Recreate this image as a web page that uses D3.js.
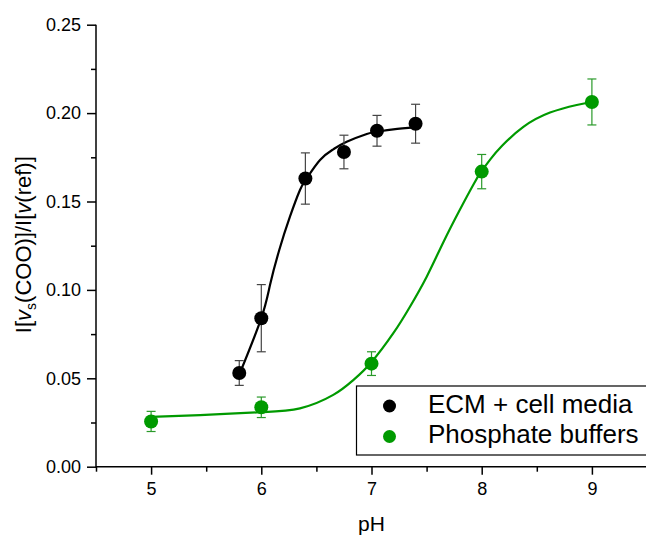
<!DOCTYPE html>
<html>
<head>
<meta charset="utf-8">
<script src="https://cdn.jsdelivr.net/npm/d3@7"></script>
<style>
  html, body { margin: 0; padding: 0; background: #fff; }
  svg { display: block; font-family: "Liberation Sans", Arial, sans-serif; }
</style>
</head>
<body>
<svg id="chart" width="646" height="536"></svg>
<script>
// Tick values
const phTicks = [5, 6, 7, 8, 9];
const phMinorTicks = [4.5, 5.5, 6.5, 7.5, 8.5, 9.5];
const ratioTicks = [0, 0.05, 0.10, 0.15, 0.20, 0.25];
const ratioMinorTicks = [0.025, 0.075, 0.125, 0.175, 0.225];

// ECM + cell media measurements
const ecmPH = [5.8, 6.0, 6.4, 6.75, 7.05, 7.4];
const ecmVal = [0.053, 0.084, 0.163, 0.178, 0.190, 0.194];
const ecmErr = [0.007, 0.019, 0.0145, 0.0095, 0.0087, 0.011];

// Phosphate buffer measurements
const phosPH = [5, 6, 7, 8, 9];
const phosVal = [0.0256, 0.0336, 0.0583, 0.1669, 0.2063];
const phosErr = [0.0057, 0.0058, 0.0067, 0.0097, 0.013];

// Sigmoidal fit curves (sampled)
const ecmFitPH = [5.8, 6.0, 6.08, 6.163, 6.26, 6.351, 6.412, 6.533, 6.653, 6.775, 6.957, 7.047, 7.198, 7.4];
const ecmFitVal = [0.052, 0.084, 0.103, 0.1226, 0.1414, 0.1565, 0.1631, 0.1735, 0.1795, 0.1838, 0.1882, 0.1895, 0.1908, 0.1921];
const phosFitPH = [5.0, 5.444, 5.988, 6.351, 6.653, 6.835, 6.995, 7.198, 7.349, 7.501, 7.652, 7.803, 7.924, 7.994, 8.08, 8.185, 8.378, 8.62, 8.862, 9.0];
const phosFitVal = [0.0282, 0.0292, 0.0308, 0.033, 0.0406, 0.049, 0.0588, 0.0755, 0.0905, 0.1075, 0.127, 0.1455, 0.1595, 0.1667, 0.174, 0.1815, 0.1922, 0.2003, 0.2046, 0.2063];

const seriesNames = ["ECM + cell media", "Phosphate buffers"];
const colors = { ecm: "#000000", phos: "#009a00" };

const svg = d3.select("#chart");
const x = d3.scaleLinear().domain([4.5, 9.5]).range([96, 647]);
const y = d3.scaleLinear().domain([0, 0.25]).range([466.7, 24.7]);

const font = "'Liberation Sans', Arial, sans-serif";

// Bottom axis: major and minor ticks
svg.append("g").attr("transform", `translate(0,${y(0)})`)
  .call(d3.axisBottom(x).tickValues(phTicks).tickFormat(d3.format("d")).tickSize(8).tickPadding(8));
svg.append("g").attr("transform", `translate(0,${y(0)})`)
  .call(d3.axisBottom(x).tickValues(phMinorTicks).tickFormat("").tickSize(5));

// Left axis: major and minor ticks
svg.append("g").attr("transform", `translate(${x(4.5)},0)`)
  .call(d3.axisLeft(y).tickValues(ratioTicks).tickFormat(d3.format(".2f")).tickSize(9).tickPadding(6));
svg.append("g").attr("transform", `translate(${x(4.5)},0)`)
  .call(d3.axisLeft(y).tickValues(ratioMinorTicks).tickFormat("").tickSize(5));

svg.selectAll(".tick line").attr("stroke", "#000").attr("stroke-width", 1.5);
svg.selectAll(".tick text").attr("fill", "#000").attr("font-size", 18).attr("font-family", font);

// plain axis lines without end caps
svg.selectAll(".domain").remove();
svg.append("line").attr("x1", x(4.5)).attr("x2", x(9.5)).attr("y1", y(0)).attr("y2", y(0))
  .attr("stroke", "#000").attr("stroke-width", 1.5);
svg.append("line").attr("x1", x(4.5)).attr("x2", x(4.5)).attr("y1", y(0) + 0.75).attr("y2", y(0.25))
  .attr("stroke", "#000").attr("stroke-width", 1.5);

// Axis titles
svg.append("text").attr("x", (x(4.5) + x(9.5)) / 2).attr("y", 531)
  .attr("text-anchor", "middle").attr("font-size", 21).attr("font-family", font).text("pH");

const yl = svg.append("text")
  .attr("transform", `translate(31,${(y(0) + y(0.25)) / 2 - 1}) rotate(-90)`)
  .attr("text-anchor", "middle").attr("font-size", 22).attr("font-family", font);
yl.append("tspan").text("I[");
yl.append("tspan").attr("font-style", "italic").text("v");
yl.append("tspan").attr("font-size", 14).attr("dy", 5).text("s");
yl.append("tspan").attr("dy", -5).text("(COO)]/I[");
yl.append("tspan").attr("font-style", "italic").text("v");
yl.append("tspan").text("(ref)]");

// Fit curves
const line = d3.line().x(d => x(d[0])).y(d => y(d[1])).curve(d3.curveNatural);
svg.append("path").datum(d3.zip(phosFitPH, phosFitVal)).attr("d", line)
  .attr("fill", "none").attr("stroke", colors.phos).attr("stroke-width", 2.2);
svg.append("path").datum(d3.zip(ecmFitPH, ecmFitVal)).attr("d", line)
  .attr("fill", "none").attr("stroke", colors.ecm).attr("stroke-width", 2.2);

// Error bars + markers
function drawSeries(ph, val, err, color, barColor) {
  const data = d3.zip(ph, val, err);
  const g = svg.append("g");
  const eb = g.selectAll("g.eb").data(data).join("g").attr("stroke", barColor).attr("stroke-width", 1.2);
  eb.append("line").attr("x1", d => x(d[0])).attr("x2", d => x(d[0]))
    .attr("y1", d => y(d[1] - d[2])).attr("y2", d => y(d[1] + d[2]));
  eb.append("line").attr("x1", d => x(d[0]) - 4.5).attr("x2", d => x(d[0]) + 4.5)
    .attr("y1", d => y(d[1] + d[2])).attr("y2", d => y(d[1] + d[2]));
  eb.append("line").attr("x1", d => x(d[0]) - 4.5).attr("x2", d => x(d[0]) + 4.5)
    .attr("y1", d => y(d[1] - d[2])).attr("y2", d => y(d[1] - d[2]));
  g.selectAll("circle").data(data).join("circle")
    .attr("cx", d => x(d[0])).attr("cy", d => y(d[1])).attr("r", 7).attr("fill", color);
}
drawSeries(phosPH, phosVal, phosErr, colors.phos, "#2a9a2a");
drawSeries(ecmPH, ecmVal, ecmErr, colors.ecm, "#444");

// Legend
const lg = svg.append("g");
lg.append("rect").attr("x", 356.5).attr("y", 386).attr("width", 320).attr("height", 69)
  .attr("fill", "#fff").attr("stroke", "#000").attr("stroke-width", 1.2);
const legendItems = [
  { name: seriesNames[0], color: colors.ecm, cy: 406 },
  { name: seriesNames[1], color: colors.phos, cy: 436.5 }
];
legendItems.forEach(it => {
  lg.append("circle").attr("cx", 389.5).attr("cy", it.cy).attr("r", 6.5).attr("fill", it.color);
  lg.append("text").attr("x", 428).attr("y", it.cy + 6.5).attr("font-size", 26)
    .attr("font-family", font).attr("fill", "#000").text(it.name);
});
</script>
</body>
</html>
